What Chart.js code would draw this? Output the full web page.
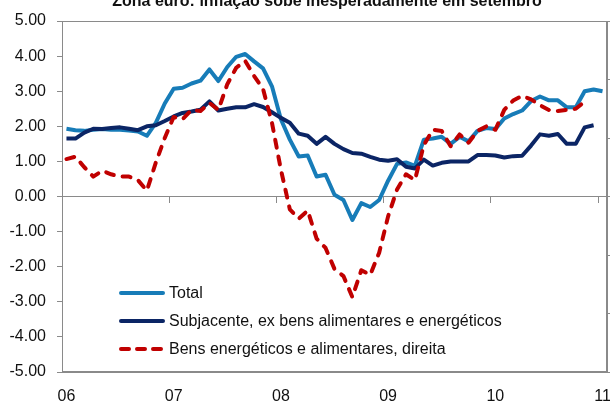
<!DOCTYPE html>
<html lang="pt">
<head>
<meta charset="UTF-8">
<title>Zona euro: inflação sobe inesperadamente em setembro</title>
<script src="https://cdn.jsdelivr.net/npm/chart.js"></script>
<style>
  body { margin: 0; background: #fff; }
  #wrap { position: relative; width: 610px; height: 405px; overflow: hidden; font-family: 'Liberation Sans', Arial, sans-serif; }
  #title { position: absolute; top: -7.5px; left: 327px; transform: translateX(-50%); white-space: nowrap;
           font-weight: bold; font-size: 16px; line-height: 16px; color: #111; }
  #legend { position: absolute; left: 119px; top: 279px; }
  .row { display: flex; align-items: center; height: 28px; font-size: 16px; color: #111; white-space: nowrap; }
  .row svg { margin-right: 4px; }
</style>
</head>
<body>
<div id="wrap">
  <canvas id="chart" width="610" height="405"></canvas>
  <div id="title">Zona euro: inflação sobe inesperadamente em setembro</div>
  <div id="legend"></div>
</div>
<script>
// tick labels on the x axis, one every 12 months
const yearLabels = ['06', '07', '08', '09', '10', '11'];

// % a/a, left axis
const total = [1.93, 1.89, 1.87, 1.90, 1.92, 1.90, 1.90, 1.88, 1.85, 1.73,
               2.10, 2.65, 3.07, 3.10, 3.22, 3.30, 3.62, 3.29, 3.69, 3.98,
               4.06, 3.85, 3.65, 3.14, 2.20, 1.62, 1.14, 1.17, 0.57, 0.62,
               0.05, -0.10, -0.67, -0.19, -0.30, -0.10, 0.45, 0.93, 0.97, 0.87,
               1.62, 1.65, 1.70, 1.50, 1.70, 1.57, 1.87, 1.95, 1.92, 2.22,
               2.35, 2.45, 2.72, 2.85, 2.74, 2.74, 2.54, 2.54, 3.00, 3.05, 3.00];

const core = [1.65, 1.65, 1.82, 1.93, 1.92, 1.95, 1.97, 1.93, 1.89, 2.00,
              2.03, 2.15, 2.28, 2.38, 2.42, 2.47, 2.71, 2.45, 2.50, 2.54,
              2.54, 2.63, 2.55, 2.40, 2.24, 2.10, 1.79, 1.73, 1.50, 1.70,
              1.50, 1.35, 1.24, 1.22, 1.13, 1.05, 1.02, 1.06, 0.85, 0.80,
              1.05, 0.88, 0.96, 1.00, 1.00, 1.00, 1.18, 1.18, 1.17, 1.11,
              1.15, 1.16, 1.45, 1.77, 1.73, 1.78, 1.50, 1.50, 1.97, 2.03];

// % a/a, right axis
const energyFood = [3.2, 3.4, 2.5, 1.7, 2.2, 1.9, 1.7, 1.7, 1.4, 0.5,
                    2.9, 5.0, 6.8, 6.6, 7.4, 7.3, 8.0, 7.4, 9.6, 11.0,
                    11.6, 10.3, 9.2, 6.3, 2.3, -1.1, -1.9, -1.2, -3.6, -4.4,
                    -6.2, -6.8, -8.6, -6.3, -6.7, -4.8, -1.7, 0.6, 1.9, 1.4,
                    4.4, 5.7, 5.6, 4.3, 5.3, 4.6, 5.6, 6.0, 5.7, 7.4,
                    8.2, 8.6, 8.3, 7.8, 7.4, 7.3, 7.4, 7.5, 8.1];

const seriesNames = ['Total',
                     'Subjacente, ex bens alimentares e energéticos',
                     'Bens energéticos e alimentares, direita'];

const labels = total.map((v, i) => i % 12 === 0 ? yearLabels[i / 12] : '');

const axisGrey = '#8a8a8a';
Chart.defaults.font.family = "'Liberation Sans', Arial, sans-serif";
Chart.defaults.font.size = 16;
Chart.defaults.color = '#111';

const plotBorder = {
  id: 'plotBorder',
  beforeDatasetsDraw(chart) {
    const a = chart.chartArea, ctx = chart.ctx;
    ctx.save();
    ctx.strokeStyle = axisGrey;
    ctx.lineWidth = 1;
    ctx.strokeRect(Math.round(a.left) + 0.5, Math.round(a.top) + 0.5,
                   Math.round(a.right - a.left) - 1, Math.round(a.bottom - a.top) - 1);
    ctx.restore();
  }
};

// the x labels may run past the canvas edge, as in the original
const noSidePadding = s => { s.paddingLeft = 0; s.paddingRight = 0; };

const chart = new Chart(document.getElementById('chart'), {
  type: 'line',
  data: {
    labels: labels,
    datasets: [
      { label: seriesNames[0], data: total, yAxisID: 'y', borderColor: '#177cb8',
        borderWidth: 4, order: 2 },
      { label: seriesNames[1], data: core, yAxisID: 'y', borderColor: '#0b2565',
        borderWidth: 4, order: 1 },
      { label: seriesNames[2], data: energyFood, yAxisID: 'y2', borderColor: '#c00000',
        borderWidth: 4, borderDash: [8, 9], borderCapStyle: 'round', order: 0 }
    ]
  },
  options: {
    responsive: false,
    animation: false,
    layout: { padding: { top: 21, left: 0, right: 0, bottom: 0 } },
    elements: {
      point: { radius: 0 },
      line: { tension: 0, borderJoinStyle: 'round', fill: false }
    },
    plugins: { legend: { display: false }, tooltip: { enabled: false } },
    scales: {
      x: {
        type: 'category',
        offset: true,
        grid: { display: false, drawTicks: false },
        border: { display: true, color: axisGrey },
        ticks: { autoSkip: false, maxRotation: 0, padding: 15 },
        afterFit(s) { s.height = 33; noSidePadding(s); }
      },
      x2: {
        type: 'category',
        position: { y: 0 },
        offset: true,
        grid: {
          offset: true,
          drawOnChartArea: false,
          drawTicks: true,
          tickLength: 6,
          tickColor: ctx => (ctx.index !== undefined && ctx.index % 12 === 0) ? axisGrey : 'rgba(0,0,0,0)'
        },
        border: { display: true, color: axisGrey },
        ticks: { display: false },
        afterFit(s) { noSidePadding(s); }
      },
      y: {
        position: 'left',
        min: -5, max: 5,
        grid: { drawOnChartArea: false, tickLength: 5, tickColor: axisGrey },
        border: { color: axisGrey },
        ticks: { stepSize: 1, padding: 11, callback: v => v.toFixed(2) },
        afterFit(s) { s.width = 62; }
      },
      y2: {
        position: 'right',
        min: -15, max: 15,
        grid: { drawOnChartArea: false, tickLength: 6, tickColor: axisGrey },
        border: { color: axisGrey },
        ticks: { display: false, stepSize: 5 },
        afterFit(s) { s.width = 3; }
      }
    }
  },
  plugins: [plotBorder]
});

// legend drawn inside the plot area, built from the datasets
const legendBox = document.getElementById('legend');
chart.data.datasets.forEach(ds => {
  const row = document.createElement('div');
  row.className = 'row';
  const dash = ds.borderDash ? 'stroke-dasharray="8 8"' : '';
  row.innerHTML = '<svg width="46" height="28"><line x1="2" y1="14" x2="44" y2="14" stroke="' +
    ds.borderColor + '" stroke-width="4" stroke-linecap="round" ' + dash + '/></svg>' +
    '<span>' + ds.label + '</span>';
  legendBox.appendChild(row);
});
</script>
</body>
</html>
